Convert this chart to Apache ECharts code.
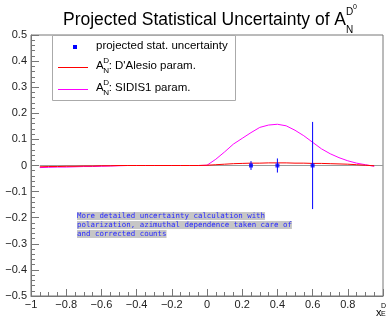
<!DOCTYPE html>
<html>
<head>
<meta charset="utf-8">
<script src="https://cdn.jsdelivr.net/npm/echarts/dist/echarts.min.js"></script>
<style>
  html, body { margin: 0; padding: 0; background: #fff; }
  #chart { width: 386px; height: 320px; }
</style>
</head>
<body>
<div id="chart"></div>
<script>
// function samples
const xGrid = [-0.95, -0.9, -0.85, -0.8, -0.75, -0.7, -0.65, -0.6, -0.55, -0.5,
  -0.45, -0.4, -0.35, -0.3, -0.25, -0.2, -0.15, -0.1, -0.05,
  0, 0.05, 0.1, 0.15, 0.2, 0.25, 0.3, 0.35, 0.4, 0.45, 0.5,
  0.55, 0.6, 0.65, 0.7, 0.75, 0.8, 0.85, 0.9, 0.95];
const sidis1 = [-0.008, -0.007, -0.006, -0.006, -0.005, -0.004, -0.004, -0.003, -0.002, -0.001,
  0, 0, 0, 0, 0, 0, 0, 0, 0,
  0.001, 0.024, 0.052, 0.082, 0.104, 0.126, 0.146, 0.155, 0.158, 0.152, 0.135,
  0.114, 0.089, 0.064, 0.045, 0.030, 0.018, 0.009, 0.003, -0.003];
const dalesio = [-0.005, -0.004, -0.004, -0.003, -0.003, -0.002, -0.002, -0.001, -0.001, 0,
  0, 0, 0, 0, 0, 0, 0, 0, 0,
  0.001, 0.003, 0.005, 0.007, 0.008, 0.009, 0.009, 0.010, 0.010, 0.010, 0.009,
  0.009, 0.008, 0.008, 0.007, 0.006, 0.005, 0.003, 0.001, -0.001];

// projected points
const pointX = [0.25, 0.4, 0.6];
const pointY = [0, 0, 0];
const pointErr = [0.017, 0.027, 0.167];

const zeroLineX = [-0.95, 1.0];

const noteLines = [
  'More detailed uncertainty calculation with',
  'polarization, azimuthal dependence taken care of',
  'and corrected counts'
];

const chart = echarts.init(document.getElementById('chart'));

const font = 'Liberation Sans, Arial, sans-serif';
const axisColor = '#777';

function pairs(xs, ys) {
  return xs.map((x, i) => [x, ys[i]]);
}

function fmt(v) {
  const r = Math.round(v * 10) / 10;
  if (r === 0) return '0';
  return r < 0 ? '\u2212' + Math.abs(r) : String(r);
}

// little helper for A_N^D style labels
function aLabel(x, y, size, rest) {
  const els = [
    { type: 'text', left: x, top: y - size * 0.6, style: { text: 'A', font: size + 'px ' + font, fill: '#000' } },
    { type: 'text', left: x + size * 0.62, top: y - size * 0.85, style: { text: 'D', font: (size * 0.7) + 'px ' + font, fill: '#000' } },
    { type: 'text', left: x + size * 0.62, top: y - size * 0.05, style: { text: 'N', font: (size * 0.7) + 'px ' + font, fill: '#000' } }
  ];
  if (rest) {
    els.push({ type: 'text', left: x + size * 1.1, top: y - size * 0.6, style: { text: rest, font: size + 'px ' + font, fill: '#000' } });
  }
  return els;
}

// one legend component per sample line, text is drawn by the graphics
function legendLine(name, y) {
  return {
    data: [name], left: 58, top: y, z: 20,
    icon: 'rect', itemWidth: 30, itemHeight: 1, itemGap: 0,
    padding: 0, selectedMode: false,
    formatter: () => '', textStyle: { fontSize: 1 }
  };
}

const graphics = [
  // title
  { type: 'text', left: 63, top: 11, style: { text: 'Projected Statistical Uncertainty of A', font: '17.5px ' + font, fill: '#000' } },
  { type: 'text', left: 346, top: 7, style: { text: 'D', font: '10px ' + font, fill: '#000' } },
  { type: 'text', left: 353, top: 4, style: { text: '0', font: '7px ' + font, fill: '#000' } },
  { type: 'text', left: 346, top: 25, style: { text: 'N', font: '10px ' + font, fill: '#000' } },

  // legend box
  { type: 'rect', shape: { x: 52.5, y: 35.5, width: 183, height: 65 }, style: { fill: '#fff', stroke: '#aaa', lineWidth: 1 }, z: 10 },
  { type: 'rect', shape: { x: 73, y: 45, width: 4, height: 4 }, style: { fill: '#0000ff' }, z: 11 },
  { type: 'text', left: 96, top: 40, z: 11, style: { text: 'projected stat. uncertainty', font: '11.5px ' + font, fill: '#000' } },

  // x axis title
  { type: 'text', left: 376, top: 307, style: { text: 'x', font: '11px ' + font, fill: '#000' } },
  { type: 'text', left: 381, top: 303, style: { text: 'D', font: '7px ' + font, fill: '#000' } },
  { type: 'text', left: 381, top: 311, style: { text: 'E', font: '7px ' + font, fill: '#000' } }
];

aLabel(96, 67, 11.5, ": D'Alesio param.").forEach(e => { e.z = 11; graphics.push(e); });
aLabel(96, 89, 11.5, ': SIDIS1 param.').forEach(e => { e.z = 11; graphics.push(e); });

noteLines.forEach((t, i) => {
  graphics.push({
    type: 'text', left: 77, top: 212 + i * 9, z: 5,
    style: {
      text: t, font: '7.45px "DejaVu Sans Mono", monospace', fill: '#2a2aff',
      backgroundColor: '#c6c6c6', padding: [1, 0, 0, 0]
    }
  });
});

const option = {
  animation: false,
  grid: { left: 31, right: 0, top: 35, bottom: 24, show: true, borderColor: axisColor, borderWidth: 1 },
  legend: [legendLine("D'Alesio", 67), legendLine('SIDIS1', 89)],
  xAxis: {
    type: 'value', min: -1, max: 1, interval: 0.2,
    axisLine: { onZero: false, lineStyle: { color: axisColor } },
    axisTick: { inside: true, length: 7, lineStyle: { color: axisColor } },
    minorTick: { show: true, splitNumber: 4, length: 4, lineStyle: { color: axisColor } },
    splitLine: { show: false },
    axisLabel: {
      color: '#222', fontFamily: font, fontSize: 11, margin: 3,
      formatter: v => (v >= 0.99 ? '' : fmt(v))
    }
  },
  yAxis: {
    type: 'value', min: -0.5, max: 0.5, interval: 0.1,
    axisLine: { onZero: false, lineStyle: { color: axisColor } },
    axisTick: { inside: true, length: 8, lineStyle: { color: axisColor } },
    minorTick: { show: true, splitNumber: 5, length: 4, lineStyle: { color: axisColor } },
    splitLine: { show: false },
    axisLabel: { color: '#222', fontFamily: font, fontSize: 11, margin: 4, formatter: fmt }
  },
  graphic: graphics,
  series: [
    {
      type: 'line', data: pairs(zeroLineX, [0, 0]), showSymbol: false, silent: true,
      lineStyle: { color: '#9a9a9a', width: 1 }, z: 1
    },
    {
      type: 'line', name: 'SIDIS1', data: pairs(xGrid, sidis1), showSymbol: false,
      color: '#ff00ff', lineStyle: { color: '#ff00ff', width: 1 }, z: 2
    },
    {
      type: 'line', name: "D'Alesio", data: pairs(xGrid, dalesio), showSymbol: false,
      color: '#ff0000', lineStyle: { color: '#ff0000', width: 1 }, z: 3
    },
    {
      type: 'custom', z: 4,
      data: pointX.map((x, i) => [x, pointY[i], pointErr[i]]),
      encode: { x: 0, y: 1 },
      renderItem: (params, api) => {
        const x = api.value(0), y = api.value(1), e = api.value(2);
        const top = api.coord([x, y + e]);
        const bot = api.coord([x, y - e]);
        return {
          type: 'line',
          shape: { x1: top[0], y1: top[1], x2: bot[0], y2: bot[1] },
          style: { stroke: '#0000ff', lineWidth: 1 }
        };
      }
    },
    {
      type: 'scatter', z: 5, symbol: 'rect', symbolSize: 4,
      data: pairs(pointX, pointY),
      itemStyle: { color: '#0000ff' }
    }
  ]
};

chart.setOption(option);
</script>
</body>
</html>
